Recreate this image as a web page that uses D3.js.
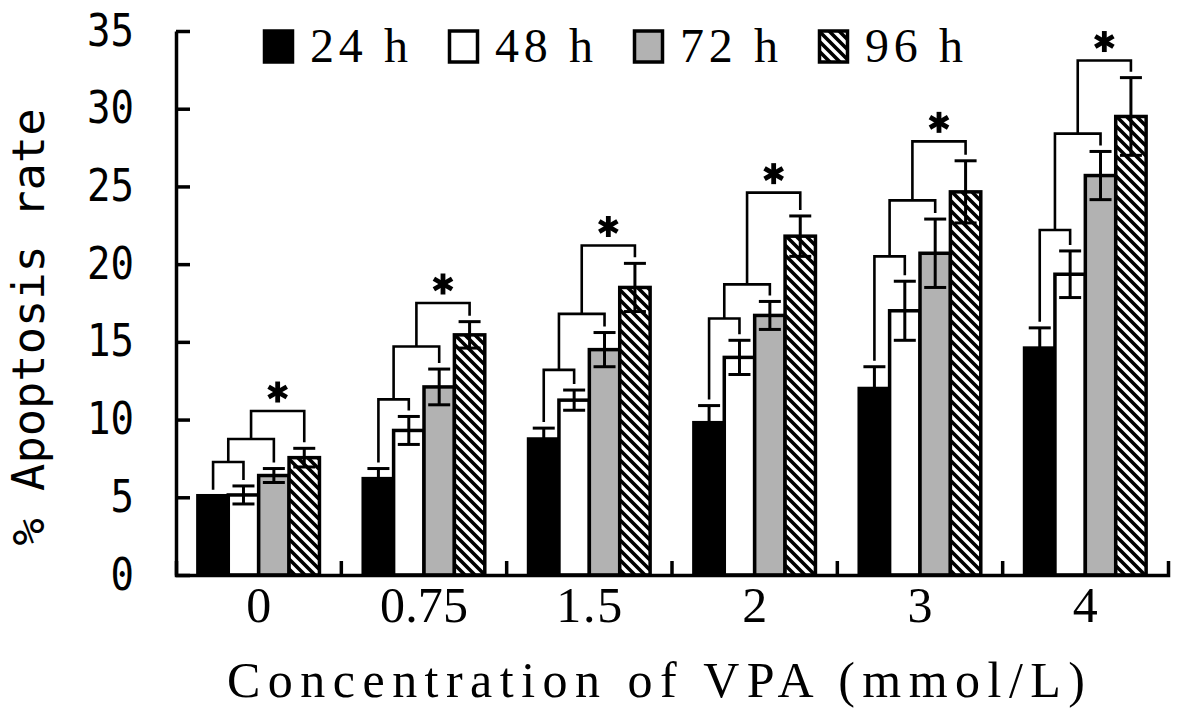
<!DOCTYPE html>
<html>
<head>
<meta charset="utf-8">
<script src="https://cdn.jsdelivr.net/npm/d3@7"></script>
<style>
  body { margin: 0; background: #fff; }
</style>
</head>
<body>
<div id="chart"></div>
<script>
  // concentration groups and time points
  let categories = ["0", "0.75", "1.5", "2", "3", "4"]
  let series = ["24 h", "48 h", "72 h", "96 h"]

  // mean apoptosis rate (%) per time point, one value per concentration
  let rate24 = [5.1, 6.2, 8.75, 9.8, 12.0, 14.6]
  let rate48 = [5.15, 9.3, 11.25, 14.0, 17.0, 19.35]
  let rate72 = [6.4, 12.1, 14.5, 16.7, 20.7, 25.7]
  let rate96 = [7.55, 15.45, 18.5, 21.8, 24.65, 29.5]

  // error (+/-)
  let err24 = [0, 0.65, 0.7, 1.1, 1.4, 1.3]
  let err48 = [0.58, 0.9, 0.65, 1.1, 1.9, 1.5]
  let err72 = [0.45, 1.15, 1.1, 0.9, 2.2, 1.55]
  let err96 = [0.6, 0.85, 1.55, 1.3, 2.0, 2.5]

  // heights of the three nested comparison brackets per concentration
  let bracketLevels = [
    [7.27, 8.75, 10.55],
    [11.3, 14.7, 17.5],
    [13.2, 16.8, 21.2],
    [16.5, 18.7, 24.6],
    [20.5, 24.1, 27.9],
    [22.2, 28.4, 33.1]
  ]

  let yTicks = [0, 5, 10, 15, 20, 25, 30, 35]

  let means = [rate24, rate48, rate72, rate96]
  let errors = [err24, err48, err72, err96]
  let fills = ["#000", "#fff", "#b2b2b2", "url(#hatch)"]

  let width = 1177, height = 713
  let plotLeft = 176, plotRight = 1168, plotTop = 31, plotBottom = 575
  let serif = "Liberation Serif"

  let svg = d3.select("#chart").append("svg")
    .attr("width", width)
    .attr("height", height)
    .style("background", "#fff")

  let defs = svg.append("defs")
  let hatch = defs.append("pattern")
    .attr("id", "hatch")
    .attr("patternUnits", "userSpaceOnUse")
    .attr("width", 10)
    .attr("height", 10)
  hatch.append("rect").attr("width", 10).attr("height", 10).attr("fill", "#fff")
  hatch.append("path")
    .attr("d", "M-1,-1L11,11M-6,4L6,16M4,-6L16,6")
    .attr("stroke", "#000")
    .attr("stroke-width", 3.6)

  let x = d3.scaleBand().domain(categories).range([plotLeft, plotRight]).padding(0)
  let xs = d3.scaleBand().domain(series).range([0, x.bandwidth()])
    .paddingInner(0).paddingOuter(0.72)
  let y = d3.scaleLinear().domain([0, 35]).range([plotBottom, plotTop])

  function cx(cat, s){
    return x(cat) + xs(series[s]) + xs.bandwidth() / 2
  }

  // bars
  let group = svg.append("g").attr("class", "bars")
    .selectAll("g")
    .data(categories)
    .enter().append("g")

  series.forEach(function(s, j){
    group.append("rect")
      .attr("x", function(d){ return x(d) + xs(s) })
      .attr("y", function(d, i){ return y(means[j][i]) })
      .attr("width", xs.bandwidth())
      .attr("height", function(d, i){ return plotBottom - y(means[j][i]) })
      .attr("fill", fills[j])
      .attr("stroke", "#000")
      .attr("stroke-width", 3.5)
  })

  // error bars
  series.forEach(function(s, j){
    categories.forEach(function(c, i){
      let e = errors[j][i]
      if (e <= 0) return
      let px = cx(c, j)
      let y1 = y(means[j][i] + e), y2 = y(means[j][i] - e)
      let eb = svg.append("g").attr("stroke", "#000").attr("stroke-width", 3)
      eb.append("line").attr("x1", px).attr("x2", px).attr("y1", y1).attr("y2", y2)
      eb.append("line").attr("x1", px - 11).attr("x2", px + 11).attr("y1", y1).attr("y2", y1)
      eb.append("line").attr("x1", px - 11).attr("x2", px + 11).attr("y1", y2).attr("y2", y2)
    })
  })

  // nested significance brackets
  function star(g, sx, sy){
    let r = 10.5
    ;[90, 30, 150].forEach(function(a){
      let rad = a * Math.PI / 180
      g.append("line")
        .attr("x1", sx - r * Math.cos(rad)).attr("y1", sy - r * Math.sin(rad))
        .attr("x2", sx + r * Math.cos(rad)).attr("y2", sy + r * Math.sin(rad))
        .attr("stroke", "#000")
        .attr("stroke-width", 4.8)
    })
  }

  let bracketG = svg.append("g").attr("class", "brackets")
  categories.forEach(function(c, i){
    let prevX = cx(c, 0)
    let prevBottom = y(means[0][i] + errors[0][i]) - 6
    let topY
    for (let k = 1; k < series.length; k++){
      topY = y(bracketLevels[i][k - 1])
      let rx = cx(c, k)
      let rBottom = y(means[k][i] + errors[k][i]) - 6
      bracketG.append("path")
        .attr("d", "M" + prevX + "," + prevBottom + "V" + topY + "H" + rx + "V" + rBottom)
        .attr("fill", "none")
        .attr("stroke", "#000")
        .attr("stroke-width", 2.6)
      prevX = (prevX + rx) / 2
      prevBottom = topY
    }
    star(bracketG, prevX, topY - 19)
  })

  // y axis
  let yAxis = svg.append("g")
    .attr("transform", "translate(" + plotLeft + ",0)")
    .call(d3.axisLeft(y).tickValues(yTicks).tickSize(-14).tickSizeOuter(0).tickPadding(42))
  yAxis.select(".domain").attr("stroke-width", 3.5)
  yAxis.selectAll(".tick line").attr("stroke-width", 3.5)
  yAxis.selectAll("text")
    .attr("font-family", "DejaVu Sans Mono")
    .attr("font-size", 44)
    .attr("fill", "#000")
    .attr("textLength", function(d){ return String(d).length * 23.5 })
    .attr("lengthAdjust", "spacingAndGlyphs")

  // x axis, upward ticks mark the group boundaries
  let xAxis = svg.append("g")
    .attr("transform", "translate(0," + plotBottom + ")")
    .call(d3.axisBottom(x).tickSize(0).tickSizeOuter(-14))
  xAxis.select(".domain").attr("stroke-width", 3.5)
  xAxis.selectAll("text")
    .attr("y", 47)
    .attr("dy", null)
    .attr("font-family", serif)
    .attr("font-size", 50)
    .attr("fill", "#000")
    .attr("textLength", function(d){ return d.length * 22 })
    .attr("lengthAdjust", "spacing")
  xAxis.selectAll(".sep")
    .data(categories.slice(0, -1))
    .enter().append("line")
    .attr("class", "sep")
    .attr("x1", function(d){ return x(d) + x.step() })
    .attr("x2", function(d){ return x(d) + x.step() })
    .attr("y1", 0)
    .attr("y2", -14)
    .attr("stroke", "#000")
    .attr("stroke-width", 3.5)

  // axis titles
  svg.append("text")
    .attr("x", 656)
    .attr("y", 697)
    .attr("text-anchor", "middle")
    .attr("font-family", serif)
    .attr("font-size", 50)
    .attr("textLength", 858)
    .attr("lengthAdjust", "spacing")
    .text("Concentration of VPA (mmol/L)")

  svg.append("text")
    .attr("transform", "translate(44,327) rotate(-90)")
    .attr("text-anchor", "middle")
    .attr("font-family", "DejaVu Sans Mono")
    .attr("font-size", 45)
    .attr("textLength", 437)
    .attr("lengthAdjust", "spacingAndGlyphs")
    .text("% Apoptosis rate")

  // legend
  let legend = svg.append("g").attr("class", "legend")
    .selectAll("g")
    .data(series)
    .enter().append("g")
    .attr("transform", function(d, i){ return "translate(" + (263 + i * 185) + ",0)" })
  legend.append("rect")
    .attr("x", 1.5)
    .attr("y", 31)
    .attr("width", 28)
    .attr("height", 31)
    .attr("fill", function(d, i){ return fills[i] })
    .attr("stroke", "#000")
    .attr("stroke-width", 3.5)
  legend.append("text")
    .attr("x", 47)
    .attr("y", 62)
    .attr("font-family", serif)
    .attr("font-size", 48)
    .attr("textLength", 98)
    .attr("lengthAdjust", "spacing")
    .text(function(d){ return d })
</script>
</body>
</html>
